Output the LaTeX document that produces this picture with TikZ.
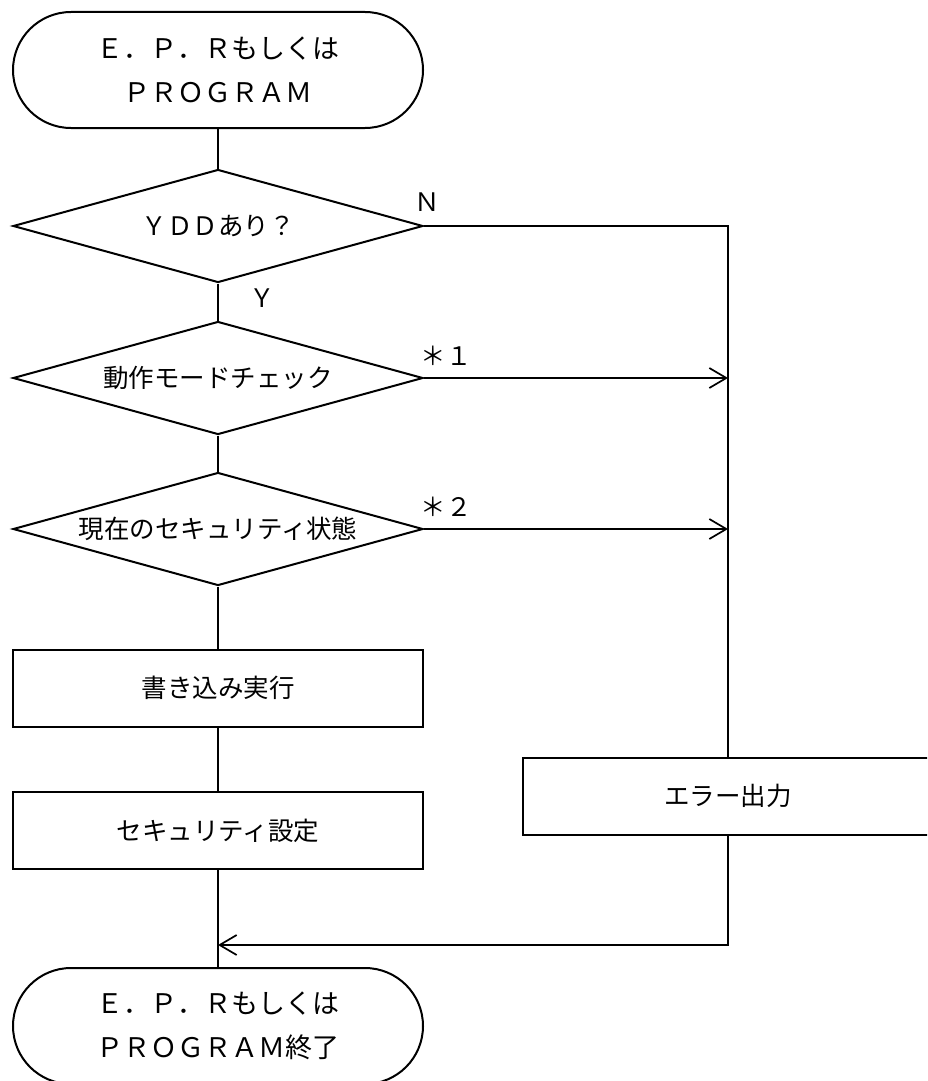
\documentclass[tikz,border=0pt]{standalone}
\usepackage{fontspec}
\newfontfamily\jp{Noto Sans CJK JP}
\usetikzlibrary{shapes.geometric,shapes.misc,arrows.meta}
\begin{document}
\begin{tikzpicture}[x=1pt,y=-1pt,
  every node/.style={font=\jp\fontsize{25.5}{44}\selectfont},
  shapebase/.style={draw, line width=2pt, inner sep=0pt},
  term/.style={shapebase, rounded rectangle, minimum width=410pt, minimum height=116pt, align=center, font=\jp\fontsize{27}{44}\selectfont},
  decision/.style={shapebase, diamond, aspect=3.6, minimum width=410pt, minimum height=113pt},
  proc/.style={shapebase, rectangle, minimum width=410pt, minimum height=77pt},
  flow/.style={line width=1.7pt},
  arr/.style={flow, -{Straight Barb[length=17pt,width=20pt,line width=1.7pt]}},
  lbl/.style={inner sep=0pt}
]
\clip (0,0) rectangle (927,1081);

\node[term] (start) at (218,70) {Ｅ．Ｐ．Ｒもしくは\\ＰＲＯＧＲＡＭ};
\node[decision] (d1) at (218,226) {ＹＤＤあり？};
\node[decision] (d2) at (218,378) {動作モードチェック};
\node[decision] (d3) at (218,529) {現在のセキュリティ状態};
\node[proc] (write) at (218,688) {書き込み実行};
\node[proc] (sec) at (218,830.5) {セキュリティ設定};
\node[proc] (err) at (728,796) {エラー出力};
\node[term] (end) at (218,1026) {Ｅ．Ｐ．Ｒもしくは\\ＰＲＯＧＲＡＭ終了};

\coordinate (c1) at (728,226);
\coordinate (c2) at (728,378);
\coordinate (c3) at (728,529);
\coordinate (c4) at (728,945);
\coordinate (c5) at (218,945);

\draw[flow] (start.south) -- (d1.north);
\draw[flow] (d1.south) -- (d2.north);
\draw[flow] (d2.south) -- (d3.north);
\draw[flow] (d3.south) -- (write.north);
\draw[flow] (write.south) -- (sec.north);
\draw[flow] (sec.south) -- (end.north);
\draw[flow] (d1.east) -- (c1) -- (err.north);
\draw[arr] (d2.east) -- (c2);
\draw[arr] (d3.east) -- (c3);
\draw[arr] (err.south) -- (c4) -- (c5);

\node[lbl] (ln) at (427,202) {Ｎ};
\node[lbl] (ly) at (262,298) {Ｙ};
\node[lbl] (l1) at (446,356) {＊１};
\node[lbl] (l2) at (446,507) {＊２};
\end{tikzpicture}
\end{document}
